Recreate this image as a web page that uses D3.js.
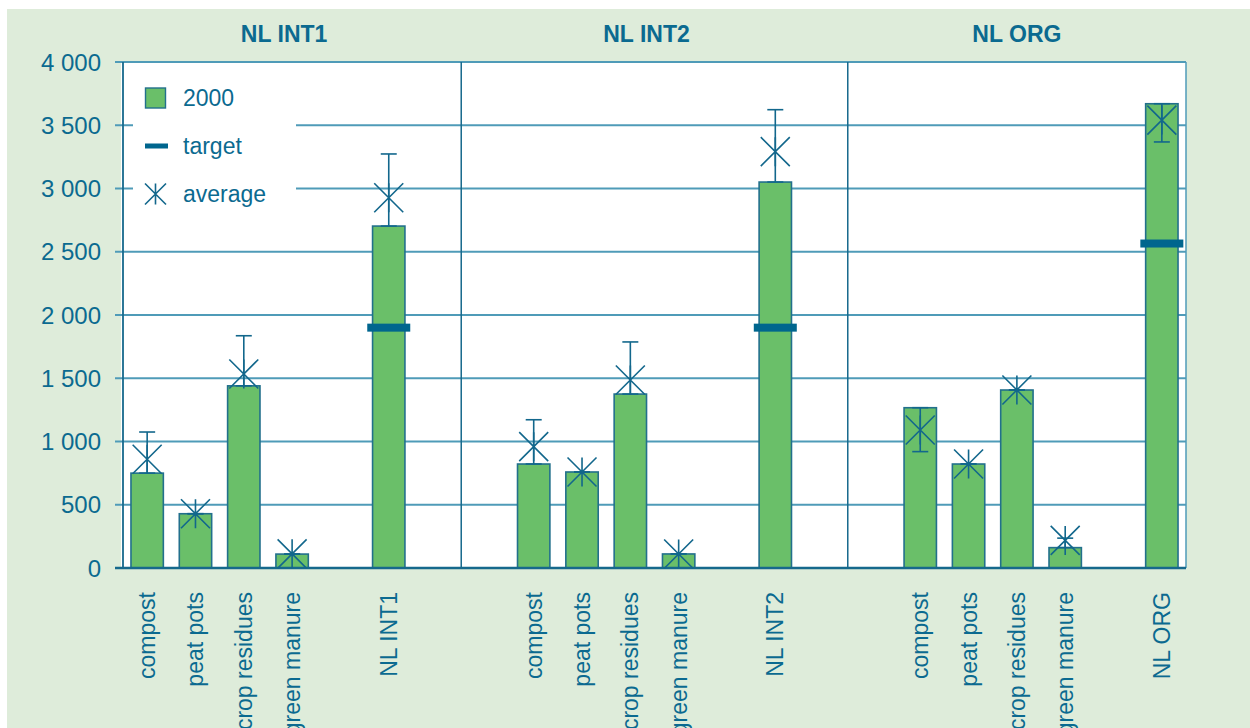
<!DOCTYPE html>
<html>
<head>
<meta charset="utf-8">
<script src="https://cdn.jsdelivr.net/npm/d3@7"></script>
<style>
  html, body { margin: 0; padding: 0; background: #ffffff; }
  svg { display: block; font-family: "Liberation Sans", Arial, sans-serif; }
</style>
</head>
<body>
<svg id="chart" width="1250" height="728"></svg>
<script>
// ---------- data ----------
const panels = ["NL INT1", "NL INT2", "NL ORG"];
const categories = ["compost", "peat pots", "crop residues", "green manure"];
// value for each panel: four categories followed by the panel total
const values2000 = [
  [750, 429, 1440, 110, 2703],
  [822, 759, 1375, 111, 3051],
  [1267, 822, 1407, 161, 3670]
];
const averages = [
  [860, 429, 1534, 112, 2927],
  [959, 759, 1486, 111, 3291],
  [1091, 822, 1407, 218, 3541]
];
const whiskers = [
  [1075, null, 1836, null, 3273],
  [1172, null, 1787, null, 3623],
  [920, null, null, 236, 3368]
];
const targets = [1900, 1900, 2565];
const yTicks = [0, 500, 1000, 1500, 2000, 2500, 3000, 3500, 4000];
const legendLabels = ["2000", "target", "average"];
// slot layout per panel ("_" = empty slot, "T" = panel total)
const panelSlots = [
  ["compost", "peat pots", "crop residues", "green manure", "_", "T", "_"],
  ["_", "compost", "peat pots", "crop residues", "green manure", "_", "T", "_"],
  ["_", "compost", "peat pots", "crop residues", "green manure", "_", "T"]
];

// ---------- style ----------
const C = {
  bg: "#deecda",
  text: "#0b6a90",
  grid: "#4f9bb8",
  axis: "#16698c",
  barFill: "#6abf69",
  barStroke: "#22708c",
  target: "#00668e",
  mark: "#12678c"
};

const svg = d3.select("#chart");
const pLeft = 123, pRight = 1186, pTop = 62, pBottom = 568;

// slot keys
const slotKeys = [];
panelSlots.forEach((slots, p) => slots.forEach((s, i) => slotKeys.push(`${p}|${i}|${s}`)));

const x = d3.scaleBand().domain(slotKeys).range([pLeft, pRight]).padding(0);
const y = d3.scaleLinear().domain([0, 4000]).range([pBottom, pTop]);
const barW = x.bandwidth() * 0.67;

// build records
const records = [];
panelSlots.forEach((slots, p) => {
  slots.forEach((s, i) => {
    if (s === "_") return;
    const ci = s === "T" ? 4 : categories.indexOf(s);
    records.push({
      key: `${p}|${i}|${s}`,
      panel: p,
      label: s === "T" ? panels[p] : s,
      value: values2000[p][ci],
      avg: averages[p][ci],
      whisker: whiskers[p][ci],
      target: s === "T" ? targets[p] : null
    });
  });
});

// panel extents
const panelRanges = panelSlots.map((slots, p) => {
  const keys = slotKeys.filter(k => k.startsWith(p + "|"));
  return [x(keys[0]), x(keys[keys.length - 1]) + x.bandwidth()];
});

// background
svg.append("rect").attr("x", 7).attr("y", 9).attr("width", 1243).attr("height", 719).attr("fill", C.bg);
svg.append("rect").attr("x", pLeft - 2).attr("y", pTop).attr("width", pRight - pLeft + 2).attr("height", pBottom - pTop).attr("fill", "#ffffff");

// gridlines
const fmt = d3.formatLocale({ decimal: ".", thousands: "\u00a0", grouping: [3], currency: ["", ""] }).format(",");
svg.append("g").selectAll("line").data(yTicks.filter(t => t > 0)).join("line")
  .attr("x1", 115).attr("x2", pRight)
  .attr("y1", d => y(d)).attr("y2", d => y(d))
  .attr("stroke", C.grid).attr("stroke-width", 2);

// right border
svg.append("line").attr("x1", pRight).attr("x2", pRight).attr("y1", pTop).attr("y2", pBottom)
  .attr("stroke", C.grid).attr("stroke-width", 1.5);

// legend background (interrupts gridlines)
svg.append("rect").attr("x", 133).attr("y", 72).attr("width", 163).attr("height", 150).attr("fill", "#ffffff");

// panel dividers
svg.append("g").selectAll("line").data(panelRanges.slice(1)).join("line")
  .attr("x1", d => d[0]).attr("x2", d => d[0]).attr("y1", pTop).attr("y2", pBottom)
  .attr("stroke", C.axis).attr("stroke-width", 1.5);

// y axis
svg.append("line").attr("x1", pLeft).attr("x2", pLeft).attr("y1", pTop).attr("y2", pBottom)
  .attr("stroke", C.axis).attr("stroke-width", 1.8);

// tick labels
svg.append("g").selectAll("text").data(yTicks).join("text")
  .attr("x", 101).attr("y", d => y(d)).attr("dy", "0.36em")
  .attr("text-anchor", "end").attr("font-size", 24).attr("fill", C.text)
  .text(d => fmt(d));

// bars
svg.append("g").selectAll("rect").data(records).join("rect")
  .attr("x", d => x(d.key) + (x.bandwidth() - barW) / 2)
  .attr("width", barW)
  .attr("y", d => y(d.value))
  .attr("height", d => y(0) - y(d.value))
  .attr("fill", C.barFill).attr("stroke", C.barStroke).attr("stroke-width", 1.6);

// x axis (zero line)
svg.append("line").attr("x1", 115).attr("x2", pRight).attr("y1", y(0)).attr("y2", y(0))
  .attr("stroke", C.axis).attr("stroke-width", 2.5);

// error bars
const cx = d => x(d.key) + x.bandwidth() / 2;
const eb = svg.append("g").attr("stroke", C.mark).attr("stroke-width", 1.6);
records.forEach(d => {
  const w = d.whisker == null ? d.value : d.whisker;
  const c = cx(d);
  eb.append("line").attr("x1", c).attr("x2", c).attr("y1", y(d.value)).attr("y2", y(w));
  eb.append("line").attr("x1", c - 8).attr("x2", c + 8).attr("y1", y(w)).attr("y2", y(w));
  eb.append("line").attr("x1", c - 8).attr("x2", c + 8).attr("y1", y(d.value)).attr("y2", y(d.value));
});

// targets
svg.append("g").selectAll("rect").data(records.filter(d => d.target != null)).join("rect")
  .attr("x", d => cx(d) - 21.5).attr("width", 43)
  .attr("y", d => y(d.target) - 4).attr("height", 8)
  .attr("fill", C.target);

// average star markers
function star(g, cxv, cyv, h) {
  g.append("path")
    .attr("d", `M${cxv - h},${cyv - h}L${cxv + h},${cyv + h}M${cxv - h},${cyv + h}L${cxv + h},${cyv - h}M${cxv},${cyv - h}L${cxv},${cyv + h}`)
    .attr("stroke", C.mark).attr("stroke-width", 1.6).attr("fill", "none");
}
const sg = svg.append("g");
records.forEach(d => star(sg, cx(d), y(d.avg), 14.5));

// panel titles
svg.append("g").selectAll("text").data(panels).join("text")
  .attr("x", (d, i) => (panelRanges[i][0] + panelRanges[i][1]) / 2 + (i < 2 ? -8 : 0))
  .attr("y", 42)
  .attr("text-anchor", "middle").attr("font-size", 23).attr("font-weight", "bold")
  .attr("fill", C.text).text(d => d);

// category labels
svg.append("g").selectAll("text").data(records).join("text")
  .attr("transform", d => `translate(${cx(d) + 8},592) rotate(-90)`)
  .attr("text-anchor", "end").attr("font-size", 23).attr("fill", C.text)
  .text(d => d.label);

// legend
const lg = svg.append("g");
lg.append("rect").attr("x", 145.5).attr("y", 88).attr("width", 20).attr("height", 20)
  .attr("fill", C.barFill).attr("stroke", C.barStroke).attr("stroke-width", 1.4);
lg.append("rect").attr("x", 145).attr("y", 143.5).attr("width", 23).attr("height", 5).attr("fill", C.target);
star(lg, 155.5, 194, 10.5);
lg.selectAll("text").data(legendLabels).join("text")
  .attr("x", 183).attr("y", (d, i) => 106 + i * 48)
  .attr("font-size", 23).attr("fill", C.text).text(d => d);
</script>
</body>
</html>
